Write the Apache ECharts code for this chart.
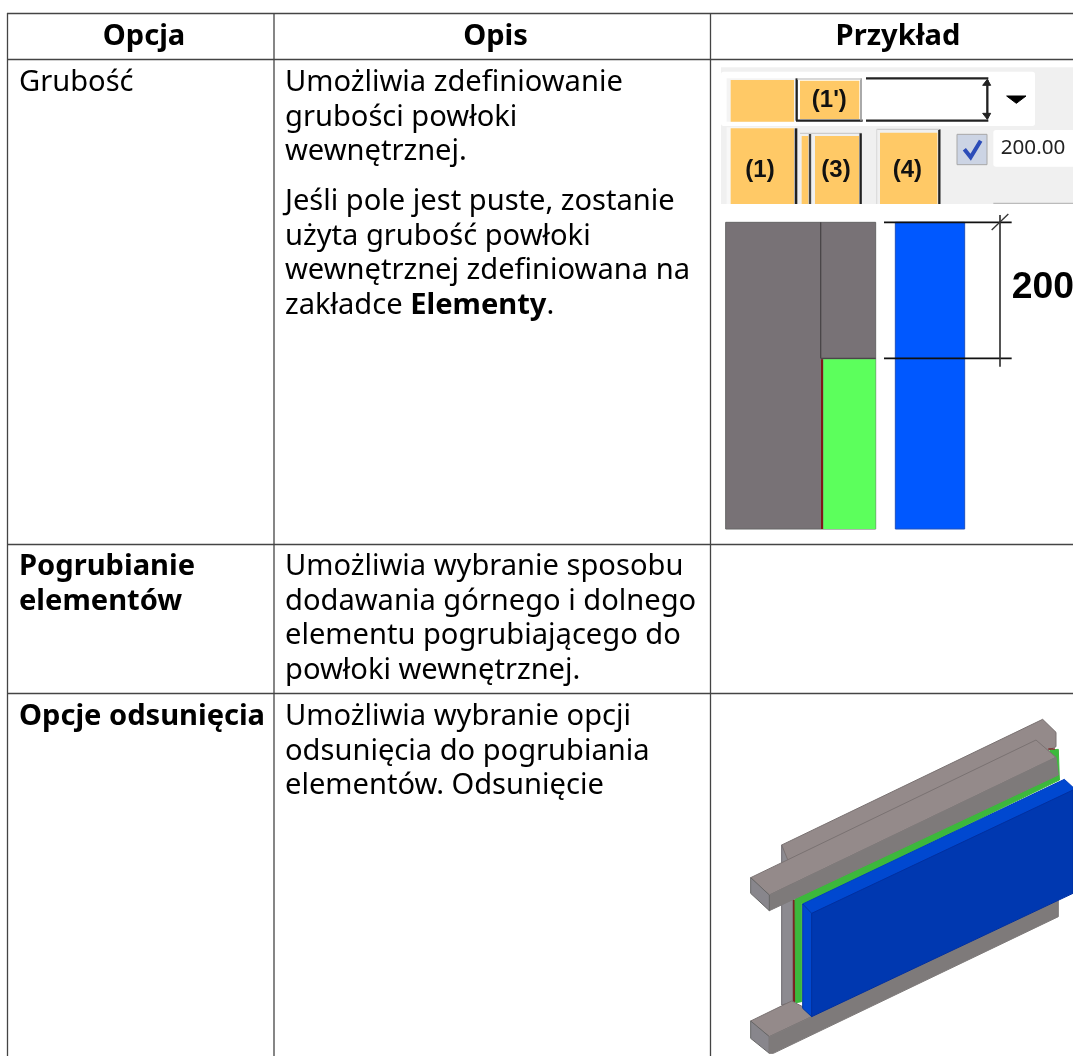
<!DOCTYPE html>
<html>
<head>
<meta charset="utf-8">
<style>
  html, body { margin: 0; padding: 0; background: #fff; }
  #chart { width: 1073px; height: 1056px; }
</style>
<script src="https://cdn.jsdelivr.net/npm/echarts@6/dist/echarts.min.js"></script>
</head>
<body>
<div id="chart"></div>
<script>
// table texts
const headers = ['Opcja', 'Opis', 'Przykład'];
const optionNames = [['Grubość'], ['Pogrubianie', 'elementów'], ['Opcje odsunięcia']];
const descThickness = ['Umożliwia zdefiniowanie', 'grubości powłoki', 'wewnętrznej.'];
const descThicknessNote = ['Jeśli pole jest puste, zostanie', 'użyta grubość powłoki', 'wewnętrznej zdefiniowana na'];
const descStiffeners = ['Umożliwia wybranie sposobu', 'dodawania górnego i dolnego', 'elementu pogrubiającego do', 'powłoki wewnętrznej.'];
const descOffset = ['Umożliwia wybranie opcji', 'odsunięcia do pogrubiania', 'elementów. Odsunięcie'];
const toolbarLabels = ["(1')", '(1)', '(3)', '(4)'];
const toolbarValue = '200.00';
const dimensionLabel = '200';

const FONT = '"Noto Sans"';
const FS = 29.1;
const els = [];

function text(str, x, y, opts) {
  els.push({
    type: 'text',
    x: x, y: y,
    style: Object.assign({
      text: str, fontFamily: FONT, fontSize: FS, fill: '#000',
      align: 'left', verticalAlign: 'middle'
    }, opts || {})
  });
}
function lines(list, x, y, step, opts) {
  list.forEach((s, i) => text(s, x, y + i * step, opts));
}
function line(x1, y1, x2, y2, color, w) {
  return { type: 'line', shape: { x1, y1, x2, y2 }, style: { stroke: color, lineWidth: w } };
}
function rect(x1, y1, x2, y2, fill, stroke, r) {
  return {
    type: 'rect',
    shape: { x: x1, y: y1, width: x2 - x1, height: y2 - y1, r: r || 0 },
    style: { fill: fill, stroke: stroke || null, lineWidth: stroke ? 3 : 0 }
  };
}
function poly(points, fill, stroke) {
  return { type: 'polygon', shape: { points }, style: { fill, stroke: stroke || fill, lineWidth: 3 } };
}
// illustrations are sketched at 3x and scaled down
function sketch(x, y, children) {
  els.push({ type: 'group', x, y, scaleX: 1 / 3, scaleY: 1 / 3, children });
}

// toolbar screenshot
const orange = '#ffc966', dark = '#222';
function label(str, x, y) {
  return { type: 'text', x, y, style: { text: str, fontFamily: 'Liberation Sans', fontWeight: 'bold', fontSize: 72, fill: '#111', align: 'center', verticalAlign: 'middle' } };
}
sketch(710, 50, [
  rect(33, 52, 1089, 462, '#f0f0f0'),
  rect(33, 65, 975, 228, '#fff', null, 8),
  rect(50, 85, 256, 215, '#f4f4f4'),
  rect(62, 90, 252, 215, orange),
  rect(270, 92, 448, 207, orange),
  line(260, 85, 260, 212, dark, 7),
  line(258, 212, 458, 212, dark, 7),
  line(453, 85, 453, 212, '#999', 5),
  line(262, 87, 453, 87, '#ccc', 4),
  line(468, 85, 835, 85, dark, 7),
  line(468, 212, 835, 212, dark, 7),
  line(832, 90, 832, 205, dark, 7),
  poly([[832, 88], [818, 106], [842, 106]], dark),
  poly([[832, 208], [818, 190], [842, 190]], dark),
  poly([[890, 138], [948, 138], [919, 160]], '#000'),
  label(toolbarLabels[0], 358, 150),
  rect(50, 232, 256, 462, '#f8f8f8'),
  rect(62, 235, 252, 462, orange),
  line(258, 235, 258, 462, dark, 8),
  rect(275, 258, 295, 462, orange),
  line(300, 250, 300, 462, '#444', 7),
  line(270, 250, 455, 250, '#ccc', 4),
  rect(315, 258, 447, 462, orange),
  line(452, 250, 452, 462, dark, 7),
  rect(510, 248, 682, 462, orange),
  line(688, 238, 688, 462, dark, 7),
  line(500, 238, 688, 238, '#ccc', 4),
  line(500, 238, 500, 462, '#ddd', 4),
  label(toolbarLabels[1], 150, 360),
  label(toolbarLabels[2], 378, 360),
  label(toolbarLabels[3], 592, 360),
  rect(741, 253, 831, 344, '#ccd4e4', '#a8a8a8'),
  { type: 'polyline', shape: { points: [[763, 298], [782, 322], [812, 272]] }, style: { stroke: '#2c4cb8', lineWidth: 12, fill: null } },
  rect(850, 240, 1100, 350, '#fff', null, 8),
  { type: 'text', x: 872, y: 293, style: { text: toolbarValue, fontFamily: FONT, fontSize: 62, fill: '#222', align: 'left', verticalAlign: 'middle' } },
  line(850, 460, 1089, 460, '#bbb', 4)
]);

// section drawing with the dimension
sketch(710, 200, [
  rect(47, 67, 497, 987, '#787276', '#666'),
  line(332, 67, 332, 475, '#4a4648', 4),
  line(332, 475, 497, 475, '#4a4648', 4),
  rect(340, 478, 497, 987, '#5cff5c'),
  line(336, 478, 336, 987, '#801818', 6),
  rect(556, 67, 764, 987, '#0058ff', '#1c50c0'),
  line(522, 67, 905, 67, '#111', 5),
  line(522, 475, 905, 475, '#111', 5),
  line(870, 45, 870, 500, '#333', 5),
  line(845, 90, 895, 42, '#333', 4),
  { type: 'text', x: 905, y: 264, style: { text: dimensionLabel, fontFamily: 'Liberation Sans', fontWeight: 'bold', fontSize: 112, fill: '#000', align: 'left', verticalAlign: 'middle' } }
]);

// isometric view
const beamTop = '#948a8a', beamFront = '#7e7a7a', beamEnd = '#88868c';
sketch(730, 700, [
  poly([[155, 435], [190, 470], [190, 905], [155, 915]], '#8c8a90', '#6c6a70'),
  poly([[155, 435], [938, 58], [978, 97], [978, 140], [190, 520]], beamTop, '#7a7272'),
  poly([[190, 600], [197, 600], [197, 905], [190, 905]], '#7a2020'),
  poly([[960, 150], [985, 148], [988, 240], [960, 240]], '#3cb83c'),
  line(955, 147, 975, 147, '#7a2020', 4),
  poly([[195, 595], [985, 222], [988, 240], [225, 612], [215, 610], [215, 905], [197, 908]], '#3cb83c'),
  poly([[62, 533], [918, 120], [978, 172], [118, 585]], beamTop, '#7a7272'),
  poly([[118, 585], [978, 172], [985, 225], [118, 632]], beamFront),
  poly([[62, 533], [118, 585], [118, 632], [62, 580]], beamEnd, '#666'),
  poly([[62, 963], [185, 903], [218, 920], [245, 950], [118, 1010]], beamTop, '#7a7272'),
  poly([[62, 963], [118, 1010], [118, 1060], [62, 1015]], beamEnd, '#666'),
  poly([[118, 1010], [245, 950], [985, 600], [985, 650], [130, 1060], [118, 1060]], beamFront),
  poly([[218, 612], [1003, 238], [1029, 262], [1029, 275], [245, 645]], '#0048d0', '#0040c0'),
  poly([[218, 612], [245, 640], [245, 950], [218, 925]], '#0048d0', '#0038a0'),
  poly([[245, 640], [1029, 270], [1029, 580], [245, 950]], '#0038b0', '#0030a0')
]);

// table body text
headers.forEach((h, i) => {
  text(h, [144, 495.5, 898][i], 37, { fontWeight: 'bold', align: 'center' });
});
const LH = 34.6;
text(optionNames[0][0], 19, 83);
lines(optionNames[1], 19, 567, LH, { fontWeight: 'bold' });
text(optionNames[2][0], 19, 717, { fontWeight: 'bold' });

lines(descThickness, 285, 83, LH);
lines(descThicknessNote, 285, 202, LH);
els.push({
  type: 'text', x: 285, y: 306,
  style: {
    text: '{n|zakładce }{b|Elementy}{n|.}',
    fontFamily: FONT, fontSize: FS, fill: '#000', verticalAlign: 'middle',
    rich: { n: { fontFamily: FONT, fontSize: FS }, b: { fontFamily: FONT, fontSize: FS, fontWeight: 'bold' } }
  }
});
lines(descStiffeners, 285, 567, LH);
lines(descOffset, 285, 717, LH);

// table rules
const ruleColor = '#444';
const xs = [7.5, 274, 710.5];
const ys = [13.5, 59.5, 544.5, 693.5];
xs.forEach(x => els.push(line(x, 13, x, 1056, ruleColor, 1.3)));
ys.forEach(y => els.push(line(7, y, 1073, y, ruleColor, 1.3)));

const chart = echarts.init(document.getElementById('chart'), null, { renderer: 'canvas' });
chart.setOption({ animation: false, backgroundColor: '#fff', graphic: { elements: els } });
</script>
</body>
</html>
